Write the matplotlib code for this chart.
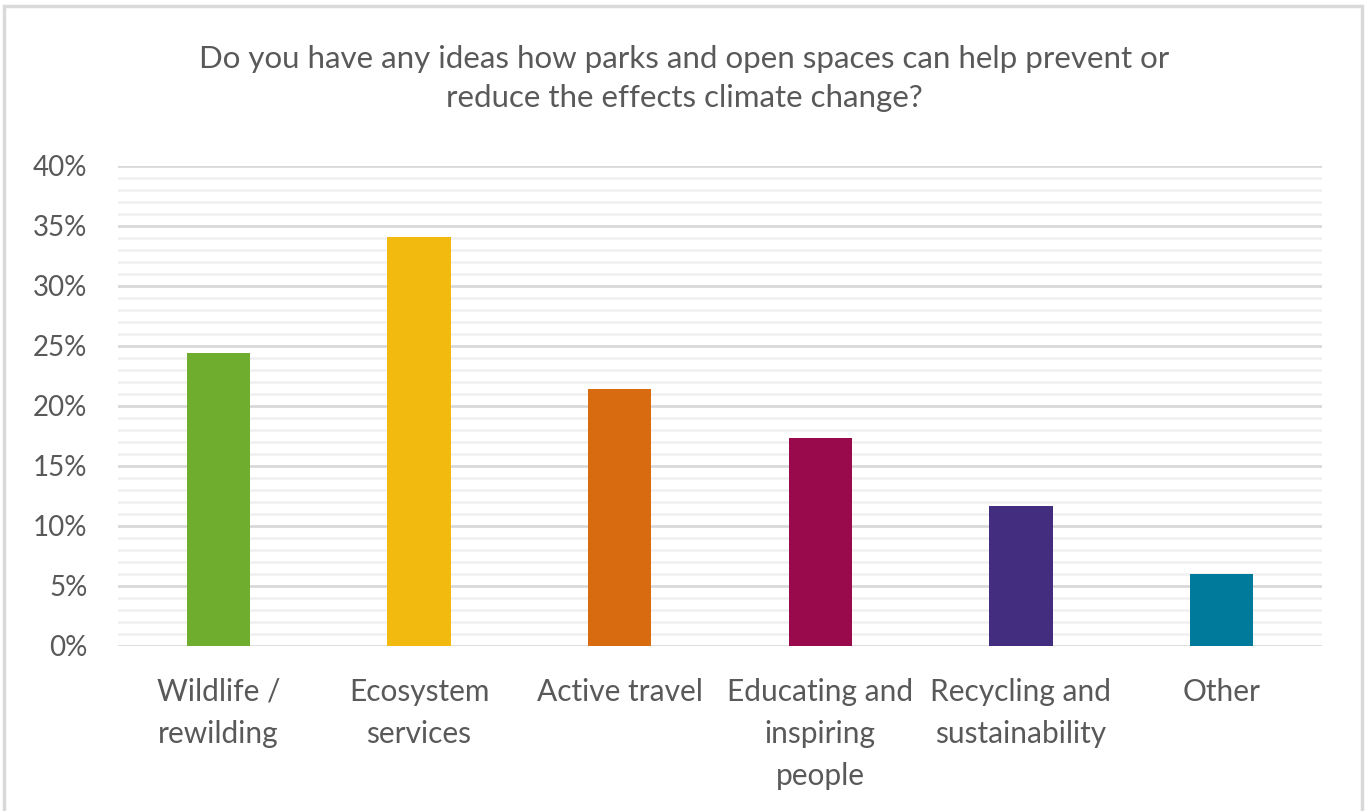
import matplotlib.pyplot as plt
import numpy as np
from matplotlib.patches import Rectangle
from matplotlib.ticker import MultipleLocator, FuncFormatter

plt.rcParams['font.family'] = ['Lato', 'DejaVu Sans']

categories = ["Wildlife /\nrewilding", "Ecosystem\nservices", "Active travel",
              "Educating and\ninspiring\npeople", "Recycling and\nsustainability", "Other"]
shares = [24.4, 34.1, 21.4, 17.3, 11.7, 6.0]
colors = ["#6EAD2E", "#F2B90E", "#D86B0F", "#990A4C", "#432D7E", "#007A9A"]

title = "Do you have any ideas how parks and open spaces can help prevent or\nreduce the effects climate change?"
text_grey = "#595959"

fig = plt.figure(figsize=(13.68, 8.11), dpi=100)
ax = fig.add_axes([118 / 1368, 165 / 811, 1204 / 1368, 480 / 811])

x = np.arange(len(categories))
ax.bar(x, shares, width=0.315, color=colors, zorder=3)

ax.set_xlim(-0.5, len(categories) - 0.5)
ax.set_ylim(0, 40)
ax.yaxis.set_major_locator(MultipleLocator(5))
ax.yaxis.set_minor_locator(MultipleLocator(1))
ax.yaxis.set_major_formatter(FuncFormatter(lambda v, p: f"{v:.0f}%"))
ax.grid(axis='y', which='major', color="#d9d9d9", linewidth=2.0, zorder=1)
ax.grid(axis='y', which='minor', color="#f0f0f0", linewidth=1.8, zorder=0)
for s in ax.spines.values():
    s.set_visible(False)

ax.tick_params(axis='y', which='both', length=0, pad=22, labelsize=20, labelcolor=text_grey)
ax.tick_params(axis='x', length=0, pad=23, labelsize=21.5, labelcolor=text_grey)
ax.set_xticks(x)
ax.set_xticklabels(categories, linespacing=1.6, va='top')

fig.text(0.5, 1 - 45 / 811, title, ha='center', va='top', fontsize=22.5,
         color=text_grey, linespacing=1.47)

# thin frame around the whole chart
fig.patches.append(Rectangle((4 / 1368, -0.01), 1358 / 1368, 1 - 6 / 811 + 0.01,
                             transform=fig.transFigure, fill=False,
                             edgecolor="#d9d9d9", linewidth=2.5))

fig.savefig("out.png", dpi=100)
